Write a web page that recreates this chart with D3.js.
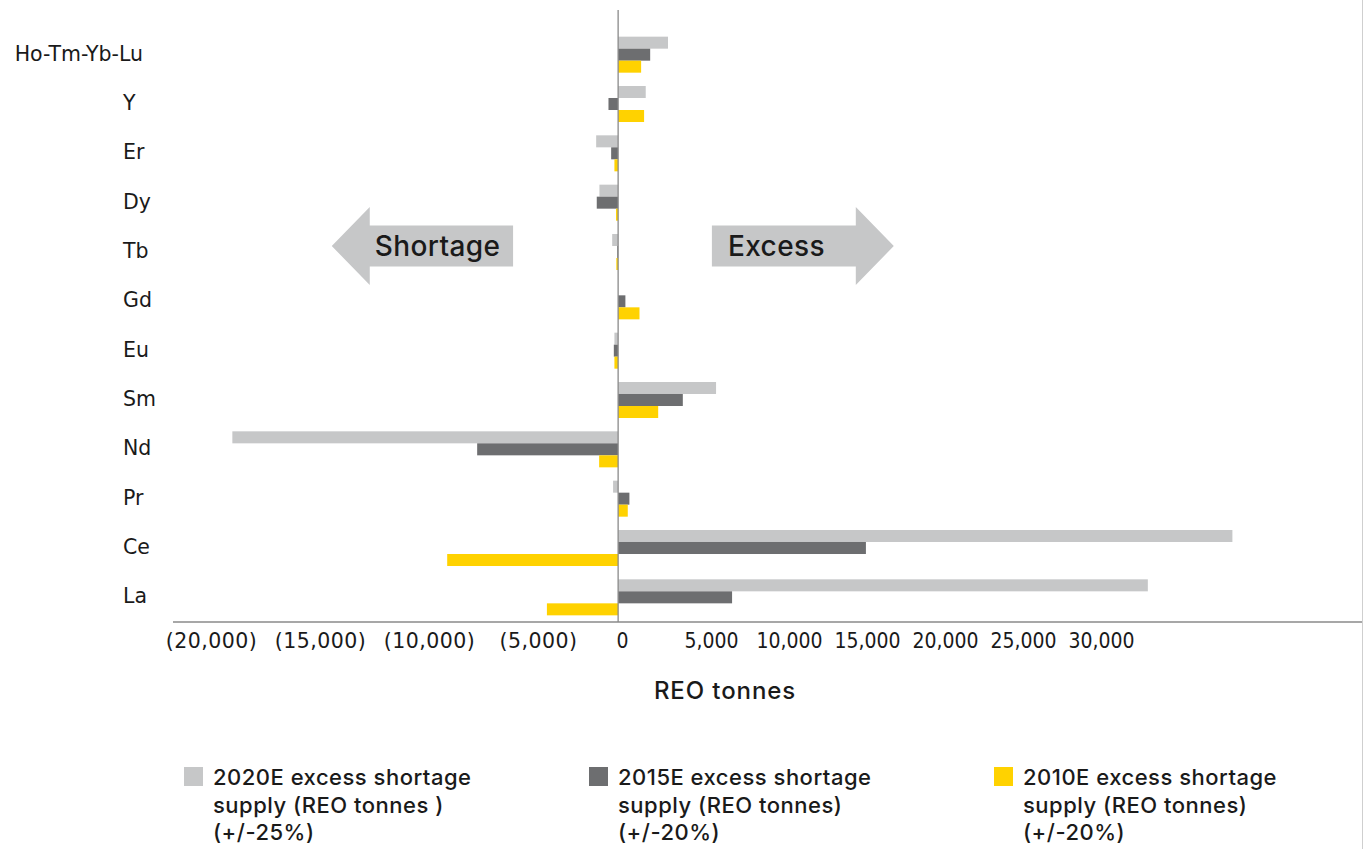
<!DOCTYPE html>
<html lang="en">
<head>
<meta charset="UTF-8">
<script src="https://cdnjs.cloudflare.com/ajax/libs/d3/7.8.5/d3.min.js"></script>
<style>
body{ margin:0; background:#fff; }
svg{ display:block; }
.cat{ font-family:"DejaVu Sans", Verdana, sans-serif; font-size:20.5px; fill:#1a1a1a; }
.tick text{ fill:#1a1a1a; }
.neg{ font-family:"DejaVu Sans", Verdana, sans-serif; font-size:20.5px; letter-spacing:0.5px; }
.pos{ font-family:"Liberation Sans Narrow", "DejaVu Sans Condensed", sans-serif; font-size:21px; }
.lbl{ font-family:Inter, "Open Sans", sans-serif; fill:#1a1a1a; font-weight:500; }
</style>
</head>
<body>
<div id="chart"></div>
<script>
/* global d3 */

// elements, top to bottom
const categories = ['Ho-Tm-Yb-Lu','Y','Er','Dy','Tb','Gd','Eu','Sm','Nd','Pr','Ce','La'];
// excess (+) / shortage (-) supply, REO tonnes
const supply2020 = [1680, 930, -740, -630, -200, 0, -125, 3300, -13000, -170, 20700, 17850];
const supply2015 = [1080, -325, -235, -720, -30, 245, -145, 2180, -4750, 380, 8350, 3840];
const supply2010 = [775, 875, -125, -70, -60, 720, -125, 1350, -640, 325, -5760, -2400];
const seriesNames = ['2020E','2015E','2010E'];
const legendLines = [
  ['2020E excess shortage','supply (REO tonnes )','(+/-25%)'],
  ['2015E excess shortage','supply (REO tonnes)','(+/-20%)'],
  ['2010E excess shortage','supply (REO tonnes)','(+/-20%)']
];
const tickValues = [-20000,-15000,-10000,-5000,0,5000,10000,15000,20000,25000,30000];

const colors = ['#c6c7c8','#6d6e70','#ffd200'];
const w = 1365, h = 849;

const svg = d3.select('#chart').append('svg').attr('width', w).attr('height', h);

const xScale = d3.scaleLinear().domain([-15000, 25000]).range([173, 1360]);
const yScale = d3.scaleBand().domain(categories).range([30, 622]).paddingInner(0.27).paddingOuter(0.135);
const ySub = d3.scaleBand().domain(seriesNames).range([0, yScale.bandwidth()]);

// the printed tick labels are not spaced evenly, so they get their own scale
const labelScale = d3.scaleLinear().domain([-20000,-5000,0,5000,30000]).range([211,538,622,711,1101]);

const rows = categories.map((c,i) => ({cat:c, vals:[supply2020[i], supply2015[i], supply2010[i]]}));

const groups = svg.selectAll('g.row').data(rows).enter().append('g')
  .attr('class','row')
  .attr('transform', d => 'translate(0,' + yScale(d.cat) + ')');

groups.selectAll('rect').data(d => d.vals.map((v,j) => ({v:v, s:seriesNames[j], j:j}))).enter().append('rect')
  .attr('x', d => xScale(Math.min(0, d.v)))
  .attr('y', d => ySub(d.s))
  .attr('width', d => Math.abs(xScale(d.v) - xScale(0)))
  .attr('height', ySub.bandwidth())
  .attr('fill', d => colors[d.j]);

// category labels
svg.selectAll('text.cat').data(categories).enter().append('text')
  .attr('class','cat')
  .attr('x', d => d.length > 4 ? 143 : 123)
  .attr('text-anchor', d => d.length > 4 ? 'end' : 'start')
  .attr('y', d => yScale(d) + yScale.bandwidth()/2 + 6)
  .text(d => d);

// axis lines
svg.append('line')
  .attr('x1', xScale.range()[0]).attr('x2', 1362)
  .attr('y1', 622).attr('y2', 622)
  .attr('stroke','#8a8a8a').attr('stroke-width',1.5);
svg.append('line')
  .attr('x1', xScale(0)).attr('x2', xScale(0))
  .attr('y1', 10).attr('y2', 622)
  .attr('stroke','#8a8a8a').attr('stroke-width',1.3);
// frame edge on the right
svg.append('line')
  .attr('x1', 1362.5).attr('x2', 1362.5).attr('y1', 0).attr('y2', h)
  .attr('stroke','#cfcfcf').attr('stroke-width',1);

const fmt = d3.format(',');
const xAxis = d3.axisBottom(labelScale).tickValues(tickValues).tickSize(0).tickPadding(0)
  .tickFormat(d => d < 0 ? '(' + fmt(-d) + ')' : fmt(d));
const gx = svg.append('g').attr('transform','translate(0,633)').call(xAxis);
gx.select('.domain').remove();
gx.selectAll('.tick text').attr('dy','0.71em')
  .attr('class', d => d < 0 ? 'neg' : 'pos');
gx.attr('font-family', null).attr('font-size', null);

svg.append('text').attr('class','lbl')
  .attr('x', 725).attr('y', 699).attr('text-anchor','middle')
  .style('font-size','24px').style('letter-spacing','0.9px')
  .text('REO tonnes');

// shortage / excess arrows
const arrowY = yScale('Tb') + yScale.bandwidth()/2 - 6;
function arrow(x0, x1, dir, label){
  // x0 = tail of box, x1 = tip
  const head = 39, box = 20.5, headLen = 38 * dir;
  const xb = x1 - headLen;
  const pts = [[x0, arrowY-box],[xb, arrowY-box],[xb, arrowY-head],[x1, arrowY],[xb, arrowY+head],[xb, arrowY+box],[x0, arrowY+box]];
  svg.append('polygon').attr('points', pts.map(p => p.join(',')).join(' ')).attr('fill','#c6c7c8');
  svg.append('text').attr('class','lbl')
    .attr('x', dir < 0 ? xb + 5 : x0 + 16).attr('y', arrowY + 10)
    .style('font-size','28px').style('letter-spacing','0.4px').text(label);
}
arrow(xScale(-3540), xScale(-9650), -1, 'Shortage');
arrow(xScale(3160), xScale(9290), 1, 'Excess');

// legend
const legend = svg.selectAll('g.legend').data(legendLines).enter().append('g')
  .attr('class','legend')
  .attr('transform', (d,i) => 'translate(' + (184 + i*405) + ',767)');
legend.append('rect').attr('width',19).attr('height',19).attr('fill', (d,i) => colors[i]);
legend.each(function(lines){
  const t = d3.select(this).append('text').attr('class','lbl')
    .style('font-size','22px').style('letter-spacing','0.5px');
  lines.forEach((l,k) => t.append('tspan').attr('x',29).attr('y', 18 + k*27.5).text(l));
});
</script>
</body>
</html>
